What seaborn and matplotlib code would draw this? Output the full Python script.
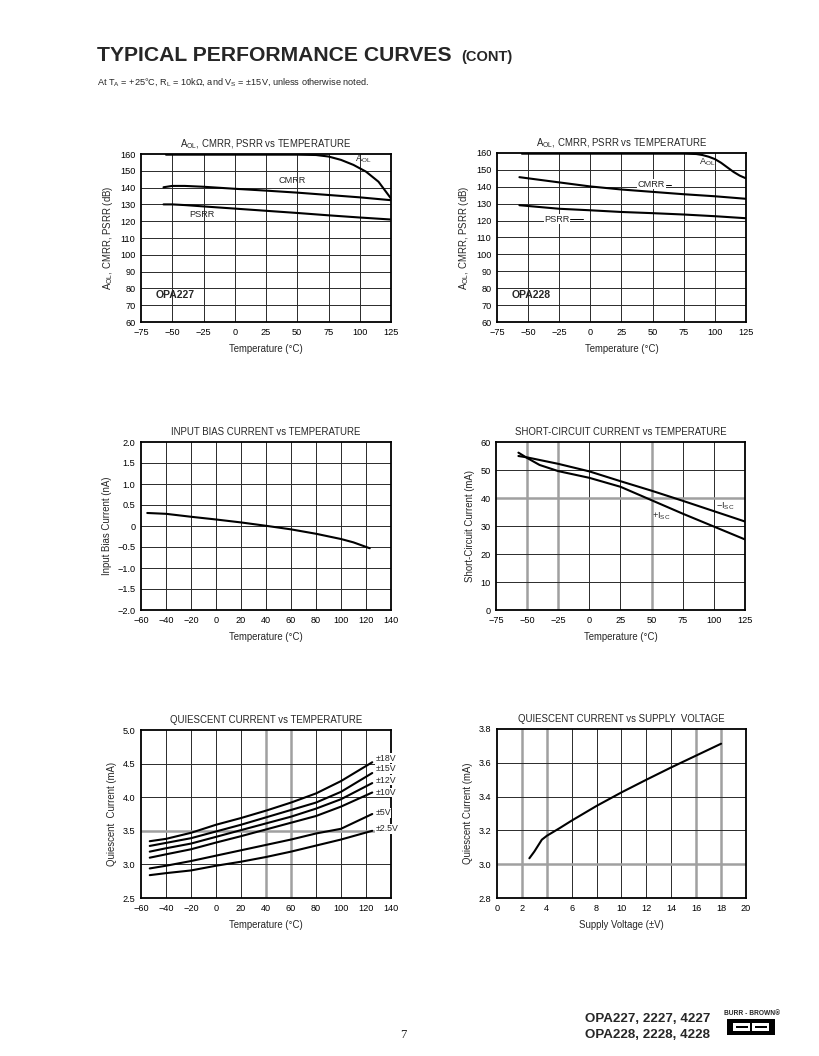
import numpy as np
import pandas as pd
import matplotlib
matplotlib.use("Agg")
import matplotlib.pyplot as plt
import seaborn as sns
from matplotlib.patches import Rectangle

# ---------------- data ----------------
# OPA227 AOL/CMRR/PSRR vs temperature
t227_aol = [-55, -25, 0, 25, 50, 65, 75, 85, 95, 105, 115, 125]
aol227 = [159.6, 159.6, 159.6, 159.6, 159.6, 159.4, 158.5, 156.5, 153.5, 149.5, 143.5, 133.5]
t227_cm = [-57, -50, -40, -25, 0, 25, 50, 75, 100, 125]
cmrr227 = [140.2, 141.0, 141.0, 140.5, 139.3, 138.2, 137.0, 135.6, 134.2, 132.5]
psrr227 = [130.0, 130.0, 129.6, 128.8, 127.5, 126.2, 124.9, 123.5, 122.2, 121.0]

# OPA228
t228_aol = [-55, -25, 0, 25, 50, 75, 85, 90, 95, 100, 105, 110, 115, 120, 125]
aol228 = [159.6, 159.6, 159.6, 159.6, 159.6, 159.6, 159.4, 158.8, 157.8, 156.4, 154.2, 151.5, 148.8, 146.6, 145.0]
t228_cm = [-57, -25, 0, 25, 50, 75, 100, 125]
cmrr228 = [145.7, 142.6, 140.2, 138.4, 137.0, 135.6, 134.4, 132.9]
psrr228 = [129.1, 127.0, 126.1, 125.1, 124.4, 123.6, 122.6, 121.4]

# Input bias current vs temperature
t_ib = [-55, -40, -20, 0, 20, 40, 60, 80, 100, 110, 123]
ib = [0.31, 0.29, 0.22, 0.155, 0.085, 0.005, -0.08, -0.185, -0.31, -0.39, -0.53]

# Short-circuit current vs temperature
t_isc_neg = [-57, -50, -25, 0, 25, 50, 75, 100, 125]
isc_neg = [55.0, 54.5, 52.2, 49.5, 46.0, 42.6, 39.0, 35.3, 31.6]
t_isc_pos = [-57, -50, -40, -25, 0, 25, 50, 75, 100, 125]
isc_pos = [56.2, 54.3, 51.8, 49.6, 47.2, 44.0, 39.2, 34.4, 29.8, 25.2]

# Quiescent current vs temperature
t_iq = [-53, -40, -20, 0, 20, 40, 60, 80, 100, 125]
iq_18 = [3.345, 3.38, 3.47, 3.59, 3.69, 3.80, 3.92, 4.056, 4.24, 4.52]
iq_15 = [3.275, 3.32, 3.39, 3.49, 3.59, 3.70, 3.81, 3.92, 4.08, 4.36]
iq_12 = [3.19, 3.24, 3.31, 3.41, 3.51, 3.61, 3.71, 3.83, 3.97, 4.21]
iq_10 = [3.10, 3.15, 3.225, 3.325, 3.42, 3.52, 3.62, 3.72, 3.86, 4.07]
iq_5 = [2.94, 2.98, 3.05, 3.13, 3.21, 3.29, 3.37, 3.46, 3.53, 3.75]
iq_25 = [2.84, 2.87, 2.91, 2.98, 3.04, 3.11, 3.19, 3.28, 3.37, 3.50]
iq_labels = ["±18V", "±15V", "±12V", "±10V", "±5V", "±2.5V"]

# Quiescent current vs supply voltage
vs = [2.6, 3.0, 3.6, 4.0, 5, 6, 8, 10, 12, 14, 16, 18]
iq_vs = [3.035, 3.075, 3.145, 3.168, 3.212, 3.258, 3.345, 3.425, 3.5, 3.573, 3.643, 3.713]

temp_ticks_a = [-75, -50, -25, 0, 25, 50, 75, 100, 125]
temp_ticks_b = [-60, -40, -20, 0, 20, 40, 60, 80, 100, 120, 140]

# ---------------- style ----------------
sns.set_style("white")
plt.rcParams['font.family'] = ['Liberation Sans', 'DejaVu Sans']
plt.rcParams['mathtext.fontset'] = 'custom'
plt.rcParams['mathtext.rm'] = 'Liberation Sans'
plt.rcParams['mathtext.it'] = 'Liberation Sans'
plt.rcParams['mathtext.bf'] = 'Liberation Sans:bold'

FS = 6.6
LW = 1.5

fig = plt.figure(figsize=(8.19, 10.56), dpi=100)
W, H = 819, 1056


def add_ax(x0, x1, y0, y1):
    return fig.add_axes([x0 / W, 1 - y1 / H, (x1 - x0) / W, (y1 - y0) / H])


def style_ax(ax, xlim, xticks, ylim, yticks, title, xlabel, ylabel,
             gray_x=(), gray_y=(), yfmt=None):
    ax.set_xlim(*xlim)
    ax.set_ylim(*ylim)
    ax.set_xticks(xticks)
    ax.set_yticks(yticks)
    if yfmt is not None:
        ax.set_yticklabels([yfmt(v) for v in yticks])
    ax.grid(False)
    for x in xticks:
        if xlim[0] < x < xlim[1]:
            if x in gray_x:
                ax.axvline(x, color='#a0a0a0', lw=1.8, zorder=1)
            else:
                ax.axvline(x, color='#2a2a2a', lw=0.7, zorder=1)
    for y in yticks:
        if ylim[0] < y < ylim[1]:
            if y in gray_y:
                ax.axhline(y, color='#a0a0a0', lw=1.8, zorder=1)
            else:
                ax.axhline(y, color='#2a2a2a', lw=0.7, zorder=1)
    for s in ax.spines.values():
        s.set_visible(True)
        s.set_color('black')
        s.set_linewidth(1.3)
    ax.tick_params(axis='both', length=0, labelsize=FS, pad=4, colors='black')
    ax.set_title(title, fontsize=FS + 0.3, pad=5)
    ax.set_xlabel(xlabel, fontsize=FS + 0.3, labelpad=5)
    ax.set_ylabel(ylabel, fontsize=FS + 0.3, labelpad=4)


def line(ax, x, y):
    df = pd.DataFrame({'x': x, 'y': y})
    sns.lineplot(data=df, x='x', y='y', ax=ax, color='black', lw=LW,
                 estimator=None, sort=False, zorder=3)


aol_ylabel = r"A$_{\mathrm{OL}}$, CMRR, PSRR (dB)"
aol_title = r"A$_{\mathrm{OL}}$, CMRR, PSRR vs TEMPERATURE"
temp_label = "Temperature (°C)"

# ---------- Chart 1 ----------
ax1 = add_ax(141, 391, 154, 322)
line(ax1, t227_aol, aol227)
line(ax1, t227_cm, cmrr227)
line(ax1, t227_cm, psrr227)
style_ax(ax1, (-75, 125), temp_ticks_a, (60, 160), list(range(60, 161, 10)),
         aol_title, temp_label, aol_ylabel)
ax1.text(96, 157.3, r"A$_{\mathrm{OL}}$", fontsize=FS, va='center', zorder=4)
ax1.text(35, 144.2, "CMRR", fontsize=FS, va='center', zorder=4)
ax1.text(-36, 124.2, "PSRR", fontsize=FS, va='center', zorder=4)
ax1.text(-63, 76, "OPA227", fontsize=7.5, fontweight='bold', va='center', zorder=4)

# ---------- Chart 2 ----------
ax2 = add_ax(497, 746, 153, 322)
line(ax2, t228_aol, aol228)
line(ax2, t228_cm, cmrr228)
line(ax2, t228_cm, psrr228)
style_ax(ax2, (-75, 125), temp_ticks_a, (60, 160), list(range(60, 161, 10)),
         aol_title, temp_label, aol_ylabel)
ax2.text(87, 155.0, r"A$_{\mathrm{OL}}$", fontsize=FS, va='center', zorder=4)
ax2.text(38, 141.6, "CMRR", fontsize=FS, va='center', zorder=4,
         bbox=dict(facecolor='white', edgecolor='none', pad=0.5))
ax2.plot([61, 65], [141.3, 141.3], color='black', lw=0.7, zorder=4)
ax2.text(-37, 120.8, "PSRR", fontsize=FS, va='center', zorder=4,
         bbox=dict(facecolor='white', edgecolor='none', pad=0.5))
ax2.plot([-16, -6], [120.8, 120.8], color='black', lw=0.7, zorder=4)
ax2.text(-63, 76, "OPA228", fontsize=7.5, fontweight='bold', va='center', zorder=4)

# ---------- Chart 3 ----------
ax3 = add_ax(141, 391, 442, 610)
line(ax3, t_ib, ib)
style_ax(ax3, (-60, 140), temp_ticks_b, (-2.0, 2.0),
         [-2.0, -1.5, -1.0, -0.5, 0, 0.5, 1.0, 1.5, 2.0],
         "INPUT BIAS CURRENT vs TEMPERATURE", temp_label, "Input Bias Current (nA)",
         yfmt=lambda v: "0" if v == 0 else f"{v:.1f}".replace("-", "\u2212"))

# ---------- Chart 4 ----------
ax4 = add_ax(496, 745, 442, 610)
line(ax4, t_isc_neg, isc_neg)
line(ax4, t_isc_pos, isc_pos)
style_ax(ax4, (-75, 125), temp_ticks_a, (0, 60), list(range(0, 61, 10)),
         "SHORT-CIRCUIT CURRENT vs TEMPERATURE", temp_label, "Short-Circuit Current (mA)",
         gray_x=(-50, -25, 50), gray_y=(40,))
ax4.text(102, 37.0, "\u2212I$_{\\mathrm{SC}}$", fontsize=FS, va='center', zorder=4)
ax4.text(50, 33.6, "+I$_{\\mathrm{SC}}$", fontsize=FS, va='center', zorder=4)

# ---------- Chart 5 ----------
ax5 = add_ax(141, 391, 730, 898)
for ser in [iq_18, iq_15, iq_12, iq_10, iq_5, iq_25]:
    line(ax5, t_iq, ser)
style_ax(ax5, (-60, 140), temp_ticks_b, (2.5, 5.0), [2.5, 3.0, 3.5, 4.0, 4.5, 5.0],
         "QUIESCENT CURRENT vs TEMPERATURE", temp_label, "Quiescent  Current (mA)",
         gray_x=(40, 60), gray_y=(3.5,), yfmt=lambda v: f"{v:.1f}")
for lab, yy in zip(iq_labels, [4.58, 4.42, 4.25, 4.07, 3.77, 3.53]):
    ax5.text(127.5, yy, lab, fontsize=FS - 0.3, va='center', zorder=4,
             bbox=dict(facecolor='white', edgecolor='none', pad=0.3))

# ---------- Chart 6 ----------
ax6 = add_ax(497, 746, 729, 898)
line(ax6, vs, iq_vs)
style_ax(ax6, (0, 20), list(range(0, 21, 2)), (2.8, 3.8), [2.8, 3.0, 3.2, 3.4, 3.6, 3.8],
         "QUIESCENT CURRENT vs SUPPLY  VOLTAGE", "Supply Voltage (±V)", "Quiescent Current (mA)",
         gray_x=(2, 4, 16, 18), gray_y=(3.0,), yfmt=lambda v: f"{v:.1f}")

# ---------- page header ----------
fig.text(97 / W, 1 - 61 / H, "TYPICAL PERFORMANCE CURVES", fontsize=15.2,
         fontweight='bold', va='baseline', ha='left')
fig.text(461 / W, 1 - 61 / H, "(CONT)", fontsize=10.5, fontweight='bold',
         va='baseline', ha='left')
fig.text(97 / W, 1 - 85 / H,
         r"At T$_{\mathrm{A}}$ = +25°C, R$_{\mathrm{L}}$ = 10k$\Omega$, and V$_{\mathrm{S}}$ = ±15V, unless otherwise noted.",
         fontsize=6.6, va='baseline', ha='left')

# ---------- footer ----------
fig.text(403 / W, 1 - 1038 / H, "7", fontsize=9, family='Liberation Serif',
         ha='center', va='baseline')
fig.text(710 / W, 1 - 1022 / H, "OPA227, 2227, 4227", fontsize=9.6,
         fontweight='bold', ha='right', va='baseline')
fig.text(710 / W, 1 - 1038 / H, "OPA228, 2228, 4228", fontsize=9.6,
         fontweight='bold', ha='right', va='baseline')
fig.text(752 / W, 1 - 1015 / H, "BURR - BROWN®", fontsize=4.8, fontweight='bold',
         ha='center', va='baseline')
fig.patches.append(Rectangle((727 / W, 1 - 1035 / H), 48 / W, 16 / H,
                             transform=fig.transFigure, facecolor='black',
                             edgecolor='none'))
fig.patches.append(Rectangle((733 / W, 1 - 1031 / H), 17 / W, 8 / H,
                             transform=fig.transFigure, facecolor='white',
                             edgecolor='none'))
fig.patches.append(Rectangle((752 / W, 1 - 1031 / H), 17 / W, 8 / H,
                             transform=fig.transFigure, facecolor='white',
                             edgecolor='none'))
fig.patches.append(Rectangle((736 / W, 1 - 1028 / H), 12 / W, 2 / H,
                             transform=fig.transFigure, facecolor='black',
                             edgecolor='none'))
fig.patches.append(Rectangle((755 / W, 1 - 1028 / H), 12 / W, 2 / H,
                             transform=fig.transFigure, facecolor='black',
                             edgecolor='none'))

fig.savefig("out.png", dpi=100)
